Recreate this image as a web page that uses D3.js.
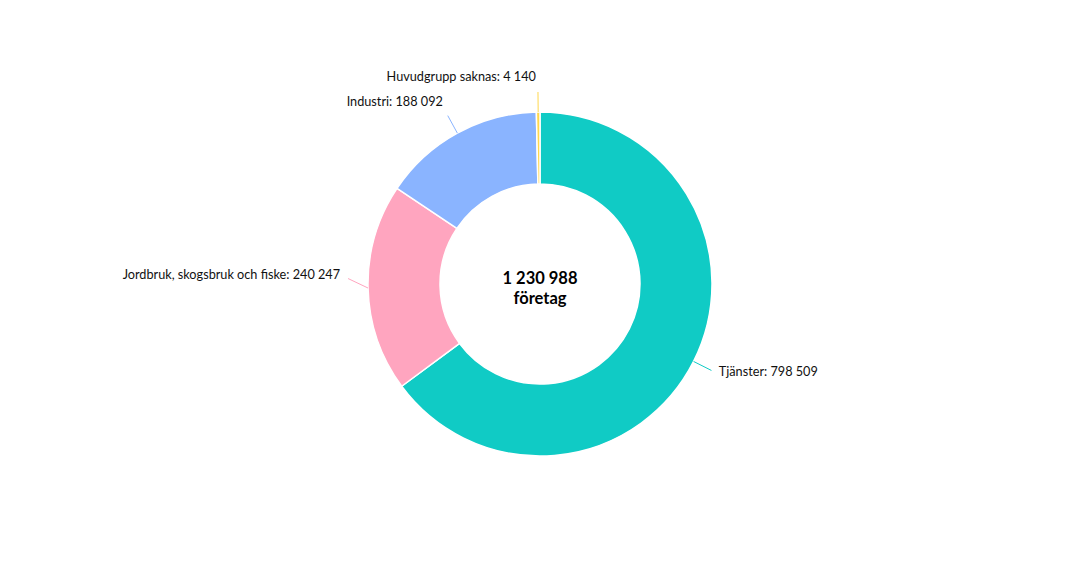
<!DOCTYPE html>
<html>
<head>
<meta charset="utf-8">
<script src="https://cdn.jsdelivr.net/npm/d3@7"></script>
<style>
  body { margin: 0; background: #fff; }
  text { font-family: Lato, "Noto Sans", sans-serif; }
</style>
</head>
<body>
<div id="chart-area"></div>
<script>
var categories = ["Tjänster", "Jordbruk, skogsbruk och fiske", "Industri", "Huvudgrupp saknas"];
var values = [798509, 240247, 188092, 4140];
var colors = ["#10cbc5", "#ffa5bf", "#8ab4ff", "#ffd84d"];
var centerLabel = ["1 230 988", "företag"];

var width = 1080, height = 567;
var cx = 540, cy = 284;
var outerR = 172, innerR = 100, lineR = 192;

var fmt = d => d3.format(",")(d).replace(/,/g, " ");

var svg = d3.select("#chart-area")
	.append("svg")
	.attr("width", width)
	.attr("height", height);

var g = svg.append("g")
	.attr("transform", "translate(" + cx + "," + cy + ")");

var data = categories.map((c, i) => ({ name: c, value: values[i], color: colors[i] }));

var pie = d3.pie().value(d => d.value).sort(null);
var arc = d3.arc().innerRadius(innerR).outerRadius(outerR);
var arcs = pie(data);

g.selectAll("path.slice")
	.data(arcs)
	.enter().append("path")
	.attr("class", "slice")
	.attr("d", arc)
	.attr("fill", d => d.data.color)
	.attr("stroke", "#fff")
	.attr("stroke-width", 1.5)
	.attr("stroke-linejoin", "round");

function mid(d) { return (d.startAngle + d.endAngle) / 2; }

// labels near the horizontal get nudged up a little, like the original
function lift(d) {
	var c = Math.cos(mid(d));
	return Math.abs(c) < 0.2 ? -10 : 0;
}

// connectors
g.selectAll("line.conn")
	.data(arcs)
	.enter().append("line")
	.attr("class", "conn")
	.attr("x1", d => outerR * Math.sin(mid(d)))
	.attr("y1", d => -outerR * Math.cos(mid(d)))
	.attr("x2", d => lineR * Math.sin(mid(d)))
	.attr("y2", d => -lineR * Math.cos(mid(d)) + lift(d))
	.attr("stroke", d => d.data.color)
	.attr("stroke-width", 1);

// labels
g.selectAll("text.lbl")
	.data(arcs)
	.enter().append("text")
	.attr("class", "lbl")
	.attr("x", d => {
		var a = mid(d), s = Math.sin(a);
		var sign = s >= 0 ? 1 : -1;
		return lineR * s + sign * (2 + 6 * Math.abs(s));
	})
	.attr("y", d => {
		var a = mid(d), c = Math.cos(a);
		return -lineR * c + (-11 * c - 4) + lift(d);
	})
	.attr("dy", "0.35em")
	.attr("text-anchor", d => Math.sin(mid(d)) >= 0 ? "start" : "end")
	.attr("font-size", "12.7px")
	.attr("fill", "#111")
	.text(d => d.data.name + ": " + fmt(d.data.value));

// center text
g.append("text")
	.attr("text-anchor", "middle")
	.attr("font-size", "16.5px")
	.attr("font-weight", "bold")
	.attr("fill", "#000")
	.selectAll("tspan")
	.data(centerLabel)
	.enter().append("tspan")
	.attr("x", 0)
	.attr("y", (d, i) => i * 20)
	.text(d => d);
</script>
</body>
</html>
